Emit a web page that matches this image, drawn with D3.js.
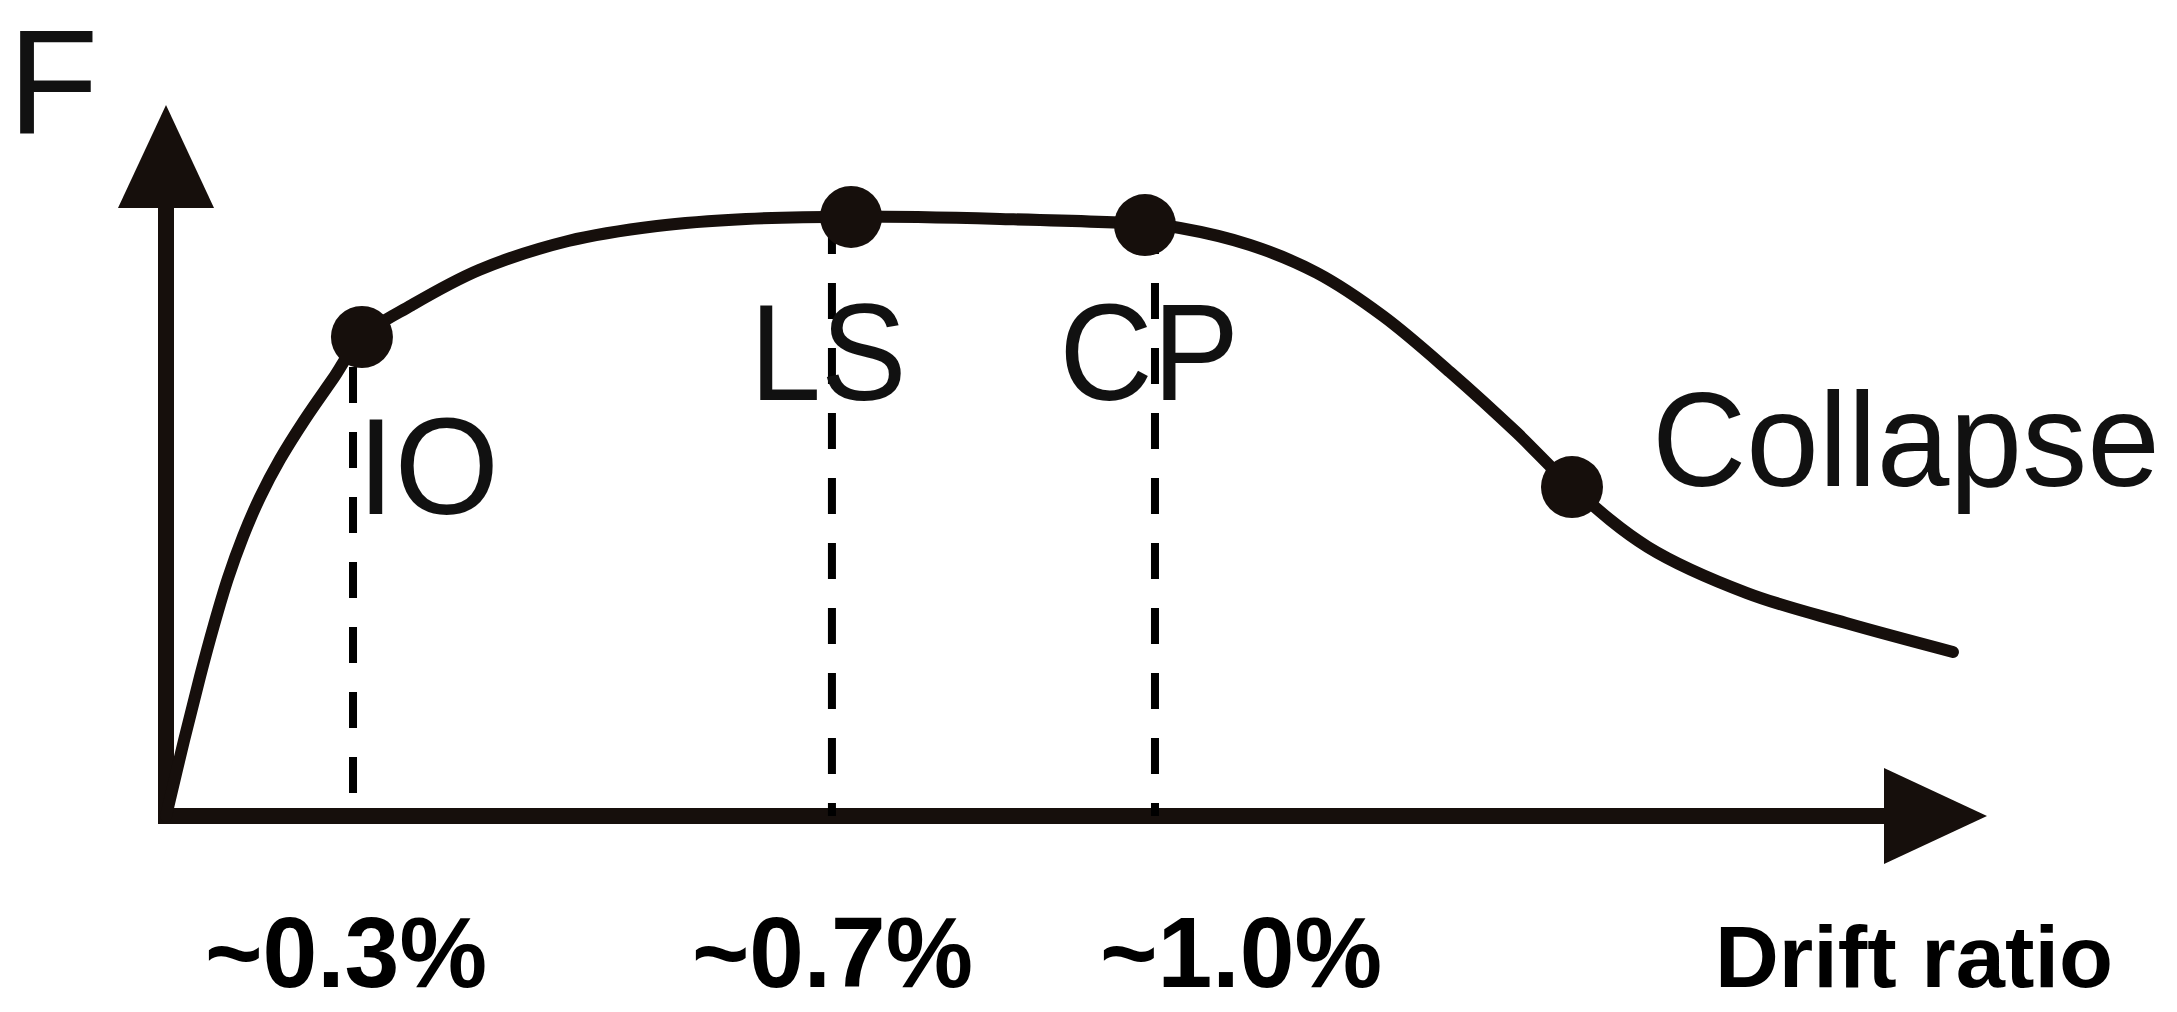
<!DOCTYPE html>
<html>
<head>
<meta charset="utf-8">
<script src="https://cdn.jsdelivr.net/npm/d3@7"></script>
<style>
  html, body { margin: 0; padding: 0; background: #ffffff; }
  svg { display: block; }
</style>
</head>
<body>
<svg id="chart" width="2177" height="1012"></svg>
<script>
// ---- data (schematic units: drift 0..100 along x, force 0..100 along y) ----
const curveDrift = [0, 0.99, 1.87, 2.64, 3.40, 4.23, 5.16, 6.26, 7.63, 9.17, 10.76, 13.51, 17.19, 22.08, 26.96, 31.85, 37.62, 45.80, 53.76, 55.68, 59.53, 63.21, 66.83, 70.51, 74.19, 77.21, 81.38, 86.82, 92.26, 98.13];
const curveForce = [0, 10.63, 19.63, 26.92, 33.42, 39.32, 44.82, 50.17, 55.79, 61.50, 67.37, 71.87, 76.79, 80.87, 82.98, 83.97, 84.30, 83.97, 83.26, 82.70, 80.31, 76.37, 70.32, 62.45, 53.87, 46.27, 37.83, 31.36, 27.14, 23.07];

const stateNames = ["IO", "LS", "CP", "Collapse"];
const stateDrift = [10.76, 37.62, 53.76, 77.21];
const stateForce = [67.37, 84.25, 83.12, 46.27];
const labelDrift = [10.50, 32.05, 49.05, 81.60];
const labelForce = [42.5, 58.5, 58.5, 46.4];

const tickLabels = ["~0.3%", "~0.7%", "~1.0%"];
const tickDrift = [10.27, 36.57, 54.31];
const dashTop = [63.15, 84.1, 84.1];
const tickLabelStart = [2.14, 28.88, 51.29];

const xTitle = "Drift ratio";
const yTitle = "F";

// ---- scales ----
const x = d3.scaleLinear().domain([0, 100]).range([166, 1987]);
const y = d3.scaleLinear().domain([0, 100]).range([816, 105]);

const svg = d3.select("#chart");
const ink = "#160f0c";

// axes (L shape) with arrowheads
const arrowLen = 103, arrowHalf = 48;
svg.append("path")
  .attr("d", `M${x(0)},${y(100) + arrowLen - 4}L${x(0)},${y(0)}L${x(100) - arrowLen + 4},${y(0)}`)
  .attr("fill", "none").attr("stroke", ink).attr("stroke-width", 16)
  .attr("stroke-linejoin", "miter").attr("stroke-linecap", "square");
svg.append("path")
  .attr("d", `M${x(0)},${y(100)}L${x(0) + arrowHalf},${y(100) + arrowLen}L${x(0) - arrowHalf},${y(100) + arrowLen}Z`)
  .attr("fill", ink);
svg.append("path")
  .attr("d", `M${x(100)},${y(0)}L${x(100) - arrowLen},${y(0) - arrowHalf}L${x(100) - arrowLen},${y(0) + arrowHalf}Z`)
  .attr("fill", ink);

// dashed markers
svg.selectAll("line.mark").data(tickDrift).join("line")
  .attr("class", "mark")
  .attr("x1", d => x(d)).attr("x2", d => x(d))
  .attr("y1", (d, i) => y(dashTop[i])).attr("y2", y(0))
  .attr("stroke", "#000").attr("stroke-width", 8)
  .attr("stroke-dasharray", "36,29");

// curve
const pts = curveDrift.map((d, i) => [x(d), y(curveForce[i])]);
svg.append("path")
  .attr("d", d3.line().curve(d3.curveCatmullRom.alpha(0.5))(pts))
  .attr("fill", "none").attr("stroke", ink).attr("stroke-width", 12)
  .attr("stroke-linecap", "round").attr("stroke-linejoin", "round");

// state points
svg.selectAll("circle.state").data(stateDrift).join("circle")
  .attr("class", "state")
  .attr("cx", d => x(d)).attr("cy", (d, i) => y(stateForce[i]))
  .attr("r", 31).attr("fill", ink);

// state labels
const labelWidths = [142, 157, 180, 508];
svg.selectAll("text.state").data(stateNames).join("text")
  .attr("class", "state")
  .attr("x", (d, i) => x(labelDrift[i])).attr("y", (d, i) => y(labelForce[i]))
  .attr("font-family", "'Liberation Sans', Arial, sans-serif")
  .attr("font-size", (d, i) => i === 3 ? 133 : 137).attr("fill", "#111")
  .attr("textLength", (d, i) => labelWidths[i]).attr("lengthAdjust", "spacingAndGlyphs")
  .text(d => d);

// y title
svg.append("text")
  .attr("x", 8).attr("y", 133)
  .attr("font-family", "'Liberation Sans', Arial, sans-serif")
  .attr("font-size", 148).attr("fill", "#111")
  .text(yTitle);

// tick labels
const tickWidths = [282, 281, 282];
svg.selectAll("text.tick").data(tickLabels).join("text")
  .attr("class", "tick")
  .attr("x", (d, i) => x(tickLabelStart[i])).attr("y", 987)
  .attr("font-family", "'Liberation Sans Narrow', 'Liberation Sans', Arial, sans-serif")
  .attr("font-weight", "bold").attr("font-size", 100).attr("fill", "#000")
  .attr("textLength", (d, i) => tickWidths[i]).attr("lengthAdjust", "spacingAndGlyphs")
  .text(d => d);

// x title
svg.append("text")
  .attr("x", 1715).attr("y", 987)
  .attr("font-family", "'Liberation Sans Narrow', 'Liberation Sans', Arial, sans-serif")
  .attr("font-weight", "bold").attr("font-size", 87).attr("fill", "#000")
  .attr("textLength", 398).attr("lengthAdjust", "spacingAndGlyphs")
  .text(xTitle);
</script>
</body>
</html>
